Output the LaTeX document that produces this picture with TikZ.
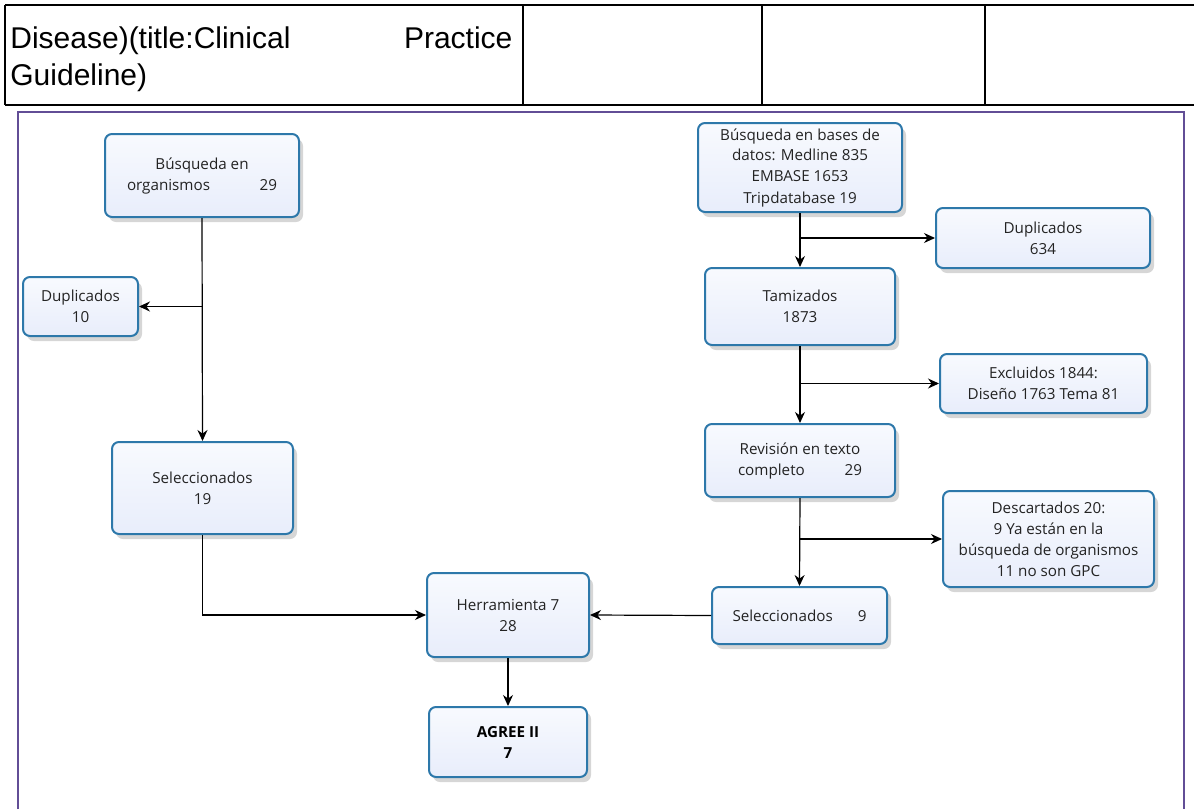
\documentclass[tikz,border=0pt]{standalone}
\usepackage{fontspec}
\setmainfont{Open Sans}
\newfontfamily\arialfont{Liberation Sans}
\usetikzlibrary{arrows.meta,shadows}
\definecolor{boxborder}{RGB}{45,120,170}
\definecolor{boxfill}{RGB}{232,237,251}
\definecolor{boxtop}{RGB}{248,250,254}
\definecolor{frameviolet}{RGB}{98,78,150}
\definecolor{txt}{RGB}{35,35,35}
\tikzset{
  flowbox/.style={draw=boxborder, line width=1pt, rounded corners=3.5pt,
    top color=boxtop, bottom color=boxfill, text=txt,
    font=\fontsize{7.6}{10.5}\selectfont, align=center, inner sep=0pt,
    drop shadow={shadow xshift=2pt, shadow yshift=-2.5pt, fill=black, opacity=0.16}},
  conn/.style={draw=black, line width=0.6pt},
  arr/.style={conn, -{Stealth[length=5.5pt,width=5pt]}},
  tableline/.style={line width=1.2pt, draw=black},
  titletext/.style={font=\arialfont\fontsize{15}{18.5}\selectfont, inner sep=0pt, text=black},
}
\begin{document}
\begin{tikzpicture}[x=0.5pt,y=-0.5pt]
\useasboundingbox (0,0) rectangle (1194,809);
% table
\draw[tableline] (5,5) -- (1194,5);
\draw[tableline] (5,105) -- (1194,105);
\draw[tableline] (5,5) -- (5,105);
\draw[tableline] (523,5) -- (523,105);
\draw[tableline] (762,5) -- (762,105);
\draw[tableline] (985,5) -- (985,105);
\node[titletext, anchor=base west] (title1) at (10,48) {\makebox[251pt]{Disease)(title:Clinical\hfill Practice}};
\node[titletext, anchor=base west] (title2) at (10,85) {Guideline)};
% frame
\draw[frameviolet, line width=1.1pt] (18,809) -- (18,112) -- (1184,112) -- (1184,809);
% left column
\node[flowbox, minimum width=97pt, minimum height=41.5pt] (bo) at (202,175.5) {Búsqueda en\\\makebox[75pt]{organismos\hfill 29}};
\node[flowbox, minimum width=57.5pt, minimum height=29.5pt] (d10) at (80.5,306.5) {Duplicados\\10};
\node[flowbox, minimum width=90.5pt, minimum height=46pt] (s19) at (202.5,488) {Seleccionados\\19};
\node[flowbox, minimum width=81pt, minimum height=42pt] (her) at (508,615) {Herramienta 7\\28};
\node[flowbox, minimum width=79pt, minimum height=35pt, font=\fontsize{7.6}{10.5}\selectfont\bfseries, text=black] (agree) at (508,742) {AGREE II\\7};
% right column
\node[flowbox, minimum width=102pt, minimum height=44.5pt] (bbd) at (800,167.5) {Búsqueda en bases de\\datos: Medline 835\\EMBASE 1653\\Tripdatabase 19};
\node[flowbox, minimum width=107pt, minimum height=30pt] (d634) at (1043,238) {Duplicados\\634};
\node[flowbox, minimum width=95pt, minimum height=38.5pt] (tam) at (800,306.5) {Tamizados\\1873};
\node[flowbox, minimum width=103.5pt, minimum height=29.5pt] (exc) at (1043.5,383.5) {Excluidos 1844:\\Diseño 1763 Tema 81};
\node[flowbox, minimum width=95pt, minimum height=36.5pt] (rev) at (800,460.5) {Revisión en texto\\\makebox[62pt]{completo\hfill 29}};
\node[flowbox, minimum width=105.5pt, minimum height=48pt] (desc) at (1048.5,539) {Descartados 20:\\9 Ya están en la\\búsqueda de organismos\\11 no son GPC};
\node[flowbox, minimum width=87.5pt, minimum height=28.5pt] (s9) at (799.5,615.5) {\makebox[67pt]{Seleccionados\hfill 9}};
% connectors
\draw[arr] (bo.south) -- (s19.north);
\coordinate (j1) at (bo.south |- d10.east);
\draw[arr] (j1) -- (d10.east);
\draw[arr] (s19.south) |- (her.west);
\draw[arr] (s9.west) -- (her.east);
\draw[arr] (her.south) -- (agree.north);
\draw[arr] (bbd.south) -- (tam.north);
\coordinate (j2) at (bbd.south |- d634.west);
\draw[arr] (j2) -- (d634.west);
\draw[arr] (tam.south) -- (rev.north);
\coordinate (j3) at (tam.south |- exc.west);
\draw[arr] (j3) -- (exc.west);
\draw[arr] (rev.south) -- (s9.north);
\coordinate (j4) at (rev.south |- desc.west);
\draw[arr] (j4) -- (desc.west);
\end{tikzpicture}
\end{document}
